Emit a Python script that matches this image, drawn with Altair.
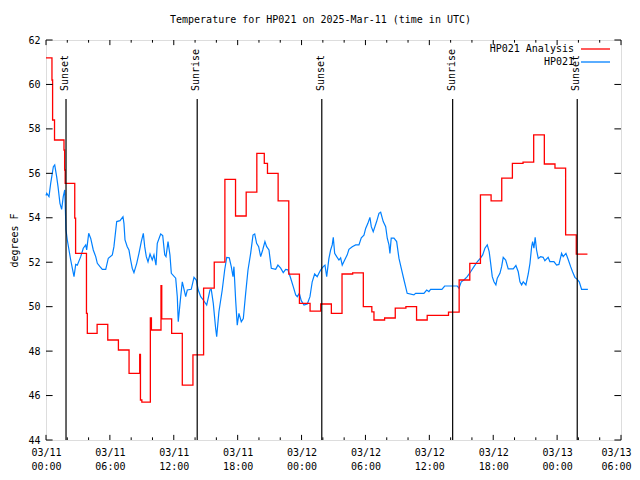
import altair as alt
import pandas as pd

BASE = pd.Timestamp("2025-03-11T00:00:00Z")
END_HOURS = 54

title_text = "Temperature for HP021 on 2025-Mar-11 (time in UTC)"
y_title = "degrees F"
series_names = ["HP021 Analysis", "HP021"]
series_colors = ["#ff0000", "#0080ff"]

# HP021 Analysis (hourly steps), hours after 03/11 00:00 UTC
analysis_hours = [0.0, 0.56, 0.62, 0.8, 1.69, 1.75, 1.8, 2.7, 2.78, 3.8, 3.88, 4.8, 5.8,
                  6.8, 7.8, 8.8, 8.87, 9.0, 9.8, 9.9, 10.8, 10.87, 11.8, 12.8, 13.8, 14.8,
                  15.8, 16.8, 17.8, 18.8, 19.8, 20.5, 20.8, 21.8, 22.8, 23.8, 24.8, 25.8,
                  26.8, 27.8, 28.8, 29.8, 30.6, 30.8, 31.8, 32.8, 33.8, 34.8, 35.8, 36.8,
                  37.8, 38.8, 39.8, 40.8, 41.8, 42.8, 43.8, 44.8, 45.8, 46.8, 47.8, 48.8,
                  49.8, 50.85]
analysis_temp = [61.2, 60.2, 58.4, 57.5, 57.05, 56.15, 55.55, 53.98, 52.4, 49.7, 48.8, 49.2, 48.5,
                 48.05, 47.0, 47.85, 45.8, 45.7, 49.5, 48.95, 50.95, 49.45, 48.8, 46.47, 47.83, 50.83,
                 52.0, 55.73, 54.08, 55.15, 56.9, 56.45, 56.0, 54.76, 51.46, 50.15, 49.8, 50.12,
                 49.7, 51.47, 51.52, 50.0, 49.77, 49.4, 49.49, 49.93, 50.0, 49.4, 49.61, 49.61,
                 49.75, 51.2, 51.95, 55.03, 54.76, 55.78, 56.45, 56.5, 57.73, 56.42, 56.23, 53.23,
                 52.36, 52.36]

# HP021 observations
obs_hours = [0.0, 0.07, 0.28, 0.44, 0.69, 0.82, 1.0, 1.13, 1.31, 1.47, 1.62, 1.76, 1.88, 2.0,
             2.16, 2.32, 2.47, 2.63, 2.79, 2.94, 3.26, 3.5, 3.73, 3.82, 4.01, 4.2, 4.44, 4.67,
             4.82, 5.07, 5.29, 5.61, 5.85, 6.23, 6.38, 6.64, 6.95, 7.23, 7.32, 7.42, 7.63, 7.79,
             7.95, 8.1, 8.26, 8.52, 8.73, 8.95, 9.14, 9.27, 9.42, 9.58, 9.77, 9.98, 10.14, 10.33,
             10.45, 10.77, 10.96, 11.15, 11.27, 11.46, 11.64, 11.77, 12.18, 12.33, 12.42, 12.65,
             12.8, 13.12, 13.27, 13.64, 13.9, 14.11, 14.3, 14.53, 14.77, 15.09, 15.4, 15.52,
             15.71, 15.93, 16.03, 16.24, 16.55, 16.78, 16.97, 17.21, 17.4, 17.56, 17.65, 17.81,
             17.96, 18.12, 18.34, 18.53, 18.75, 18.97, 19.22, 19.44, 19.6, 19.78, 19.97, 20.16,
             20.35, 20.56, 20.72, 20.94, 21.16, 21.57, 21.78, 22.04, 22.28, 22.51, 22.72, 22.98,
             23.22, 23.45, 23.6, 23.79, 23.97, 24.23, 24.54, 24.79, 25.0, 25.23, 25.47, 25.63,
             25.79, 26.04, 26.2, 26.36, 26.57, 26.73, 26.88, 26.98, 27.11, 27.3, 27.51, 27.67,
             27.82, 28.05, 28.29, 28.45, 28.76, 29.08, 29.39, 29.61, 29.86, 30.02, 30.23, 30.42,
             30.55, 30.73, 31.05, 31.27, 31.43, 31.67, 31.9, 32.05, 32.21, 32.3, 32.42, 32.68,
             32.93, 33.15, 33.36, 33.62, 33.77, 33.92, 34.55, 34.71, 35.49, 35.75, 35.96, 36.12,
             37.18, 37.44, 38.62, 38.78, 39.0, 39.25, 39.56, 39.88, 40.19, 40.5, 40.82, 41.01,
             41.22, 41.44, 41.62, 41.76, 41.91, 42.07, 42.25, 42.38, 42.63, 42.79, 42.94, 43.17,
             43.41, 43.88, 44.13, 44.35, 44.51, 44.67, 44.82, 45.07, 45.29, 45.45, 45.61, 45.7,
             45.82, 45.94, 46.07, 46.23, 46.45, 46.69, 46.85, 47.16, 47.32, 47.7, 47.95, 48.17,
             48.42, 48.57, 48.83, 49.04, 49.27, 49.45, 49.67, 49.89, 50.08, 50.3, 50.89]
obs_temp = [55.0, 55.1, 54.95, 55.55, 56.3, 56.38, 55.85, 55.4, 54.65, 54.38, 54.95, 55.25, 53.45, 53.0,
            52.55, 52.1, 51.73, 51.35, 51.9, 51.87, 52.25, 52.63, 52.78, 52.55, 53.3, 53.07, 52.55, 52.25,
            51.95, 51.8, 51.68, 51.68, 52.18, 52.33, 52.7, 53.83, 53.87, 54.05, 53.75, 53.0, 52.7, 52.55,
            52.1, 51.73, 51.53, 51.95, 52.4, 52.93, 53.3, 52.7, 52.25, 52.02, 52.37, 52.1, 52.33, 51.87,
            52.85, 53.27, 53.2, 52.33, 52.25, 52.93, 52.33, 51.5, 51.28, 50.45, 49.32, 50.45,
            51.12, 50.45, 50.75, 50.78, 51.32, 51.2, 50.75, 50.45, 50.3, 50.07, 50.75, 50.78,
            50.15, 49.03, 48.65, 49.77, 50.75, 51.65, 52.22, 52.2, 51.8, 51.35, 51.8, 50.3,
            49.17, 49.7, 49.32, 49.47, 50.6, 51.65, 52.4, 53.22, 53.27, 52.85, 52.7, 52.25,
            52.55, 52.93, 52.7, 52.55, 51.73, 51.68, 51.87, 51.73, 51.53, 51.68, 51.66, 51.28,
            50.9, 50.53, 50.45, 50.6, 50.27, 50.07, 50.12, 50.45, 51.12, 51.47, 51.35, 51.5,
            51.65, 51.8, 51.87, 51.35, 52.17, 52.55, 52.78, 53.12, 52.4, 52.25, 52.1, 52.2,
            51.87, 52.1, 52.33, 52.58, 52.7, 52.78, 52.78, 53.1, 53.22, 53.52, 53.75, 54.02,
            53.6, 53.37, 53.83, 54.2, 54.25, 53.83, 53.6, 53.08, 52.78, 52.4, 53.08, 53.08,
            52.93, 52.17, 51.73, 51.2, 50.9, 50.6, 50.53, 50.6, 50.6, 50.75, 50.68, 50.78,
            50.78, 50.93, 50.93, 50.83, 51.12, 51.2, 51.35, 51.57, 51.8, 52.02, 52.2, 52.33,
            52.63, 52.78, 52.48, 51.95, 51.35, 51.12, 50.98, 51.28, 51.5, 51.8, 52.22, 52.1,
            51.7, 51.7, 51.85, 51.57, 51.12, 50.98, 51.12, 50.98, 51.47, 51.95, 52.7, 52.93,
            52.63, 53.12, 52.55, 52.17, 52.25, 52.22, 52.07, 52.22, 52.03, 52.03, 51.87, 51.9,
            52.4, 52.25, 52.4, 52.12, 51.8, 51.57, 51.32, 51.23, 51.12, 50.78, 50.78]

event_hours = [1.88, 14.2, 25.9, 38.19, 49.89]
event_labels = ["Sunset", "Sunrise", "Sunset", "Sunrise", "Sunset"]
event_top = 59.35
event_label_start = 59.7

y_ticks = list(range(44, 63, 2))
x_major_hours = list(range(0, END_HOURS + 1, 6))
x_minor_hours = [h for h in range(0, END_HOURS + 1, 2) if h % 6]

FONT = "DejaVu Sans Mono"


def iso(h):
    return (BASE + pd.to_timedelta(h, unit="h")).strftime("%Y-%m-%dT%H:%M:%SZ")


def ms(h):
    return int((BASE + pd.to_timedelta(h, unit="h")).timestamp() * 1000)


xscale = alt.Scale(type="utc", domain=[ms(0), ms(END_HOURS)], nice=False)
yscale = alt.Scale(domain=[44, 62], nice=False, zero=False)

analysis_df = pd.DataFrame({"t": [iso(h) for h in analysis_hours], "v": analysis_temp})
obs_df = pd.DataFrame({"t": [iso(h) for h in obs_hours], "v": obs_temp})
event_df = pd.DataFrame({"t": [iso(h) for h in event_hours], "label": event_labels,
                         "v": 44.0, "top": event_top, "lab": event_label_start})

# frame ticks (inward), through the scales
tick_rows = []
for h in x_major_hours:
    tick_rows.append({"t": iso(h), "t2": iso(h), "v": 44, "v2": 44.23})
    tick_rows.append({"t": iso(h), "t2": iso(h), "v": 62, "v2": 61.77})
for h in x_minor_hours:
    tick_rows.append({"t": iso(h), "t2": iso(h), "v": 44, "v2": 44.12})
    tick_rows.append({"t": iso(h), "t2": iso(h), "v": 62, "v2": 61.88})
for yv in y_ticks:
    tick_rows.append({"t": iso(0), "t2": iso(0.62), "v": yv, "v2": yv})
    tick_rows.append({"t": iso(END_HOURS - 0.62), "t2": iso(END_HOURS), "v": yv, "v2": yv})
tick_df = pd.DataFrame(tick_rows)

x_axis = alt.Axis(values=[ms(h) for h in x_major_hours],
                  labelExpr="[utcFormat(datum.value, '%m/%d'), utcFormat(datum.value, '%H:%M')]",
                  ticks=False, domain=False, grid=False, labelFont=FONT, labelFontSize=10,
                  labelColor="black", labelPadding=7, labelLineHeight=14, labelAngle=0,
                  labelBaseline="top", labelOverlap=False, labelFlush=False,
                  labelOffset={"condition": {"test": f"datum.value >= {ms(END_HOURS)}", "value": -5},
                               "value": 0})
y_axis = alt.Axis(values=y_ticks, format="d", ticks=False, domain=False, grid=False,
                  labelFont=FONT, labelFontSize=10, labelColor="black", labelPadding=6,
                  labelFlush=False, titleFont=FONT, titleFontSize=10,
                  titleFontWeight="normal", titleColor="black", titleAngle=270,
                  titleX=-32, titleY=200, titleAlign="center", titleBaseline="middle")


def X(field="t"):
    return alt.X(f"{field}:T", scale=xscale, axis=x_axis, title=None)


def Y(field="v"):
    return alt.Y(f"{field}:Q", scale=yscale, axis=y_axis, title=y_title)


obs_line = alt.Chart(obs_df).mark_line(color=series_colors[1], strokeWidth=1.2).encode(
    x=X(), y=Y())
analysis_line = alt.Chart(analysis_df).mark_line(color=series_colors[0], strokeWidth=1.3,
                                                 interpolate="step-after").encode(x=X(), y=Y())
event_rules = alt.Chart(event_df).mark_rule(color="black", strokeWidth=1.2).encode(
    x=X(), y=Y(), y2="top:Q")
event_text = alt.Chart(event_df).mark_text(angle=270, align="left", baseline="middle",
                                           font=FONT, fontSize=10, color="black", dy=-1).encode(
    x=X(), y=Y("lab"), text="label:N")
ticks = alt.Chart(tick_df).mark_rule(color="black", strokeWidth=1).encode(
    x=X(), x2="t2:T", y=Y(), y2="v2:Q")

legend_layers = []
for i, (name, col) in enumerate(zip(series_names, series_colors)):
    ldf = pd.DataFrame({"name": [name]})
    legend_layers.append(alt.Chart(ldf).mark_text(align="right", baseline="middle", font=FONT,
                                                  fontSize=10, color="black").encode(
        x=alt.value(528), y=alt.value(9 + 13 * i), text="name:N"))
    legend_layers.append(alt.Chart(ldf).mark_rule(color=col, strokeWidth=1.3).encode(
        x=alt.value(535), x2=alt.value(564), y=alt.value(9 + 13 * i)))

chart = alt.layer(obs_line, analysis_line, event_rules, event_text, ticks, *legend_layers).properties(
    width=575, height=400,
    title=alt.TitleParams(title_text, font=FONT, fontSize=10, fontWeight="normal", color="black",
                          anchor="middle", dx=-13, offset=10),
    autosize=alt.AutoSizeParams(type="none"),
    padding={"left": 38, "top": 32, "right": 11, "bottom": 34},
).configure_view(stroke="black", strokeWidth=1).configure(background="white")

chart.save("out.html", embed_options={"renderer": "svg", "actions": False})
